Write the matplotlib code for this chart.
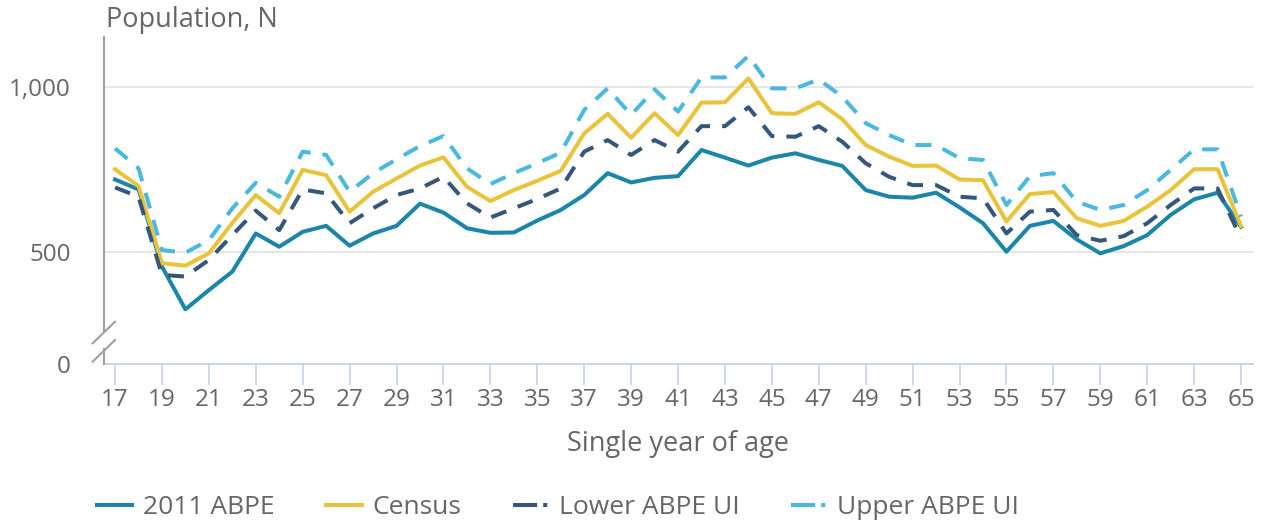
import matplotlib
matplotlib.use("Agg")
import matplotlib.pyplot as plt
from matplotlib.lines import Line2D

plt.rcParams['font.family'] = ['Open Sans', 'DejaVu Sans']

ages = list(range(17, 66))

abpe = [720, 690, 457, 328, 386, 442, 557, 517, 562, 580, 520, 557, 580,
        647, 620, 573, 559, 560, 596, 628, 673, 739, 711, 725, 730, 809, 786,
        762, 786, 799, 779, 761,
        688, 668, 665, 680, 636, 588, 502, 580, 595, 539, 497, 519, 552, 613,
        660, 680, 577]
census = [751, 700, 467, 460, 497, 589, 673, 618, 749, 733, 623, 683, 723,
          762, 787, 698, 655, 688, 716, 746, 859, 918, 846, 920, 854, 952, 953,
          1025, 920, 918, 953, 902,
          824, 789, 761, 762, 720, 718, 593, 676, 682, 603, 580, 595, 638, 688,
          751, 751, 580]
lower_ui = [696, 668, 432, 427, 477, 552, 626, 567, 690, 678, 588, 633, 673,
            693, 728, 648, 605, 633, 661, 693, 804, 839, 794, 839, 804, 881, 881,
            938, 851, 849, 881, 834,
            769, 728, 703, 703, 668, 663, 557, 623, 628, 552, 535, 549, 588, 643,
            693, 693, 542]
upper_ui = [814, 754, 507, 499, 537, 633, 710, 668, 804, 794, 683, 739, 781,
            821, 851, 754, 706, 739, 769, 801, 930, 995, 915, 992, 925, 1028, 1028,
            1093, 995, 995, 1022, 970,
            890, 854, 824, 824, 784, 779, 643, 730, 739, 653, 628, 643, 688, 749,
            811, 811, 608]

series_names = ["2011 ABPE", "Census", "Lower ABPE UI", "Upper ABPE UI"]
colors = ["#1b86a9", "#e8c33b", "#35577a", "#4bb8e0"]

y_break_value = 163          # axis bottom shown as "0" (broken axis)
grid_values = [500, 1000]
x_ticks = list(range(17, 66, 2))

TEXT = "#666666"
W, H = 1263, 524

fig = plt.figure(figsize=(W / 100, H / 100), dpi=100)
ax = fig.add_axes([104 / W, 1 - 364 / H, (1253 - 104) / W, (364 - 36.7) / H])

for g in grid_values:
    ax.axhline(g, color="#e6e6e6", lw=1.4, zorder=0)

lw = 2.9
ax.plot(ages, abpe, color=colors[0], lw=lw, solid_joinstyle="round", zorder=3)
ax.plot(ages, census, color=colors[1], lw=lw, solid_joinstyle="round", zorder=4)
ax.plot(ages, lower_ui, color=colors[2], lw=lw, linestyle=(0, (4, 3)), zorder=5)
ax.plot(ages, upper_ui, color=colors[3], lw=lw, linestyle=(0, (4, 3)), zorder=6)

ax.set_xlim(16.53, 65.51)
ax.set_ylim(y_break_value, 1151)

ax.set_xticks(x_ticks)
ax.set_xticklabels([str(t) for t in x_ticks])
ax.set_yticks([y_break_value] + grid_values)
ax.set_yticklabels(["0", "500", "1,000"])

ax.tick_params(axis="x", length=15, width=1.3, color="#ccd6eb", pad=2,
               labelsize=17.5, labelcolor=TEXT)
ax.tick_params(axis="y", length=0, pad=24, labelsize=17.5, labelcolor=TEXT)

for s in ["top", "right", "left"]:
    ax.spines[s].set_visible(False)
ax.spines["bottom"].set_color("#ccd6eb")
ax.spines["bottom"].set_linewidth(1.5)

# y axis line with break marks
def px(x, y):
    return x / W, 1 - y / H

axis_gray = "#a0a0a0"
for (x0, y0), (x1, y1) in [((104, 36.7), (104, 331)), ((104, 349), (104, 364)),
                           ((92.7, 343.3), (115, 321.7)), ((92.7, 361.7), (115, 340))]:
    a, b = px(x0, y0)
    c, d = px(x1, y1)
    fig.add_artist(Line2D([a, c], [b, d], color=axis_gray, lw=1.5))

fig.text(106 / W, 1 - 20 / H, "Population, N", fontsize=19.5, color=TEXT,
         ha="left", va="center")
fig.text(678 / W, 1 - 444 / H, "Single year of age", fontsize=19.5, color=TEXT,
         ha="center", va="center")

handles = [
    Line2D([], [], color=colors[0], lw=lw),
    Line2D([], [], color=colors[1], lw=lw),
    Line2D([], [], color=colors[2], lw=lw, dashes=(6, 1.5, 1, 12)),
    Line2D([], [], color=colors[3], lw=lw, dashes=(6, 1.5, 1, 12)),
]
leg = fig.legend(handles, series_names, loc="center", bbox_to_anchor=(558 / W, 1 - 508 / H),
                 ncol=4, frameon=False, fontsize=19, handlelength=1.35,
                 handletextpad=0.4, columnspacing=1.95)
for t in leg.get_texts():
    t.set_color(TEXT)

fig.savefig("out.png", dpi=100)
